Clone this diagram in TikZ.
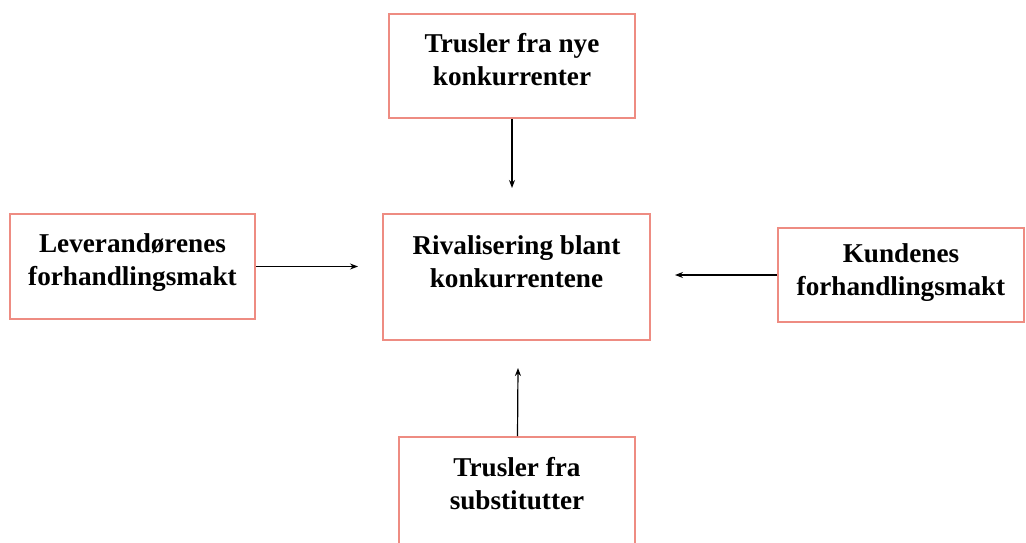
\documentclass[tikz,border=0pt]{standalone}
\usepackage{fontspec}
\setmainfont{Liberation Serif}
\usetikzlibrary{positioning,arrows.meta}
\definecolor{boxred}{RGB}{238,140,130}
\tikzset{
  force/.style={draw=boxred,line width=1.2pt,inner sep=0pt},
  forcetxt/.style={font=\bfseries\fontsize{20.4}{24.5}\selectfont,align=center,inner sep=0pt}
}

\begin{document}
\begin{tikzpicture}[x=0.75pt,y=-0.75pt,>={Stealth[length=6pt,width=4.5pt]}]
\useasboundingbox (0,0) rectangle (1026,543);
\clip (0,0) rectangle (1026,543);
% the five boxes
\node[force,minimum width=184.5pt,minimum height=78pt] (nye) at (512,66) {};
\node[force,minimum width=200.25pt,minimum height=94.5pt] (riv) at (516.5,277) {};
\node[force,minimum width=183.75pt,minimum height=78.75pt] (lev) at (132.5,266.5) {};
\node[force,minimum width=184.5pt,minimum height=70.5pt] (kun) at (901,275) {};
\node[force,minimum width=177pt,minimum height=105pt] (sub) at (517,507) {};
% texts
\node[forcetxt,below=15pt of nye.north] (nyetxt) {Trusler fra nye\\konkurrenter};
\node[forcetxt,below=16.5pt of riv.north] (rivtxt) {Rivalisering blant\\konkurrentene};
\node[forcetxt,below=15pt of lev.north] (levtxt) {Leverandørenes\\forhandlingsmakt};
\node[forcetxt,below=12pt of kun.north] (kuntxt) {Kundenes\\forhandlingsmakt};
\node[forcetxt,below=15.75pt of sub.north] (subtxt) {Trusler fra\\substitutter};
% arrows
\coordinate (nyeend) at (512,188);
\coordinate (levend) at (358,266.5);
\coordinate (kunend) at (675,275);
\coordinate (subend) at (518,368);
\draw[->,line width=0.9pt] (nye) -- (nyeend);
\draw[->,line width=0.9pt] (lev) -- (levend);
\draw[->,line width=0.9pt] (kun) -- (kunend);
\draw[->,line width=0.9pt] (sub) -- (subend);
\end{tikzpicture}
\end{document}
